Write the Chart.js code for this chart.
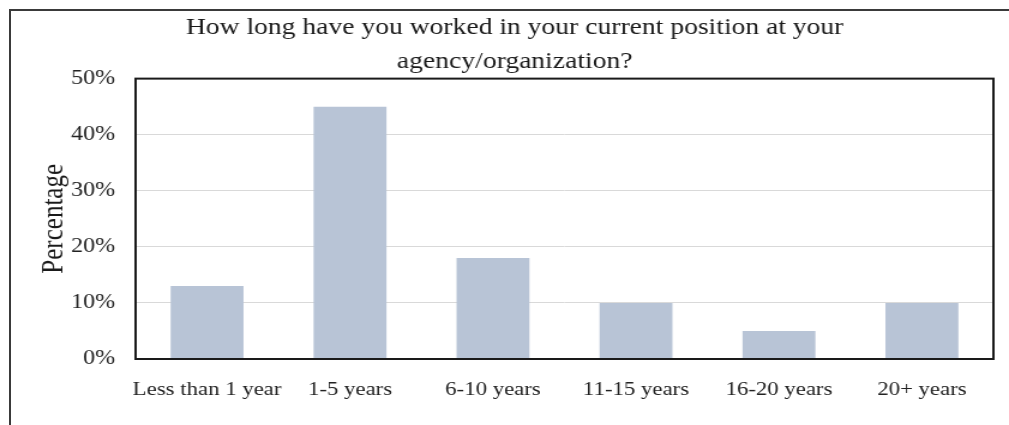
<!DOCTYPE html>
<html>
<head>
<meta charset="utf-8">
<script src="https://cdn.jsdelivr.net/npm/chart.js@4"></script>
<style>
    html, body { margin: 0; padding: 0; background: #fff; }
    #marco {
        position: absolute; left: 0; top: 0; width: 1009px; height: 425px; overflow: hidden;
    }
    #borde {
        position: absolute; left: 9px; top: 9px; right: -5px; bottom: -5px;
        border-top: 2px solid #3a3a3a; border-left: 2px solid #3a3a3a;
    }
    /* el original esta estirado en horizontal, se estira el lienzo igual */
    canvas { position: absolute; left: 0; top: 0; }
</style>
</head>
<body>
<div id="marco">
    <div id="borde"></div>
    <canvas id="graficoPosicion" width="841" height="425" style="width:1009px;height:425px"></canvas>
</div>
<script>
// Datos de la encuesta
const categorias = ["Less than 1 year", "1-5 years", "6-10 years", "11-15 years", "16-20 years", "20+ years"];
const porcentajes = [13, 45, 18, 10, 5, 10];
const titulo = ["How long have you worked in your current position at your", "agency/organization?"];
const tituloEjeY = "Percentage";

const fuente = "'Liberation Serif', 'Times New Roman', serif";

// Marco negro alrededor del area de dibujo
const marcoArea = {
    id: "marcoArea",
    afterDraw(chart) {
        const { ctx, chartArea: a } = chart;
        ctx.save();
        ctx.strokeStyle = "#1a1a1a";
        ctx.lineWidth = 2;
        ctx.strokeRect(a.left, a.top, a.right - a.left, a.bottom - a.top);
        ctx.restore();
    }
};

new Chart(document.getElementById("graficoPosicion"), {
    type: "bar",
    data: {
        labels: categorias,
        datasets: [{
            data: porcentajes,
            backgroundColor: "#b8c4d6",
            borderWidth: 0,
            categoryPercentage: 1,
            barPercentage: 0.51
        }]
    },
    options: {
        responsive: false,
        animation: false,
        devicePixelRatio: 1,
        layout: { padding: { left: 30, right: 13, top: 0, bottom: 0 } },
        plugins: {
            legend: { display: false },
            tooltip: { enabled: false },
            title: {
                display: true,
                text: titulo,
                color: "#1a1a1a",
                font: { family: fuente, size: 23, weight: "normal", lineHeight: 1.47 },
                padding: { top: 11, bottom: 0 }
            }
        },
        scales: {
            x: {
                grid: { display: false, drawTicks: false },
                border: { display: false },
                ticks: {
                    color: "#222",
                    font: { family: fuente, size: 19 },
                    padding: 20,
                    maxRotation: 0,
                    autoSkip: false
                },
                afterFit(scale) { scale.height = 66; }
            },
            y: {
                min: 0,
                max: 50,
                grid: { color: "#d9d9d9", lineWidth: 1, drawTicks: false },
                border: { display: false },
                ticks: {
                    stepSize: 10,
                    color: "#222",
                    padding: 17,
                    font: { family: fuente, size: 20 },
                    callback: v => v + "%"
                },
                title: {
                    display: true,
                    text: tituloEjeY,
                    color: "#1a1a1a",
                    font: { family: fuente, size: 25 },
                    padding: { top: 0, bottom: 0 }
                },
                afterFit(scale) { scale.width = 83; }
            }
        }
    },
    plugins: [marcoArea]
});
</script>
</body>
</html>
